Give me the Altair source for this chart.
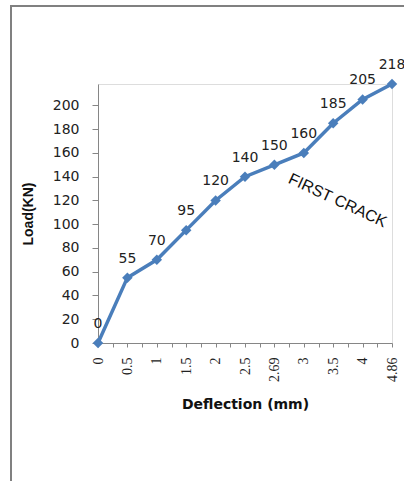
import altair as alt
import pandas as pd

# Data
deflection_labels = ["0", "0.5", "1", "1.5", "2", "2.5", "2.69", "3", "3.5", "4", "4.86"]
load_values = [0, 55, 70, 95, 120, 140, 150, 160, 185, 205, 218]
annotation_text = ["FIRST CRACK"]
annotation_pos = [8.15, 120]  # (category index, load) where the note sits

df = pd.DataFrame({
    "idx": list(range(len(deflection_labels))),
    "label": deflection_labels,
    "load": load_values,
})
ann = pd.DataFrame({"idx": [annotation_pos[0]], "load": [annotation_pos[1]], "t": annotation_text})

BLUE = "#4A7EBB"
AXIS = "#868686"

label_js = "[" + ",".join("'" + s + "'" for s in deflection_labels) + "]"
tick_vals = [i * 0.5 for i in range(2 * (len(deflection_labels) - 1) + 1)]

x_enc = alt.X(
    "idx:Q",
    scale=alt.Scale(domain=[0, len(deflection_labels) - 1], nice=False, zero=False),
    axis=alt.Axis(
        values=tick_vals,
        labelExpr=f"datum.value % 1 == 0 ? {label_js}[datum.value] : ''",
        labelAngle=270,
        labelAlign="right",
        labelBaseline="middle",
        labelFont="Liberation Serif",
        labelFontSize=14,
        labelColor="#222222",
        labelPadding=10,
        labelOverlap=False,
        labelFlush=False,
        labelBound=False,
        tickSize=4,
        tickColor=AXIS,
        domainColor=AXIS,
        grid=False,
        title="Deflection (mm)",
        titleFont="DejaVu Sans",
        titleFontWeight="bold",
        titleFontSize=14,
        titleColor="#111111",
        titleY=61,
        titleBaseline="middle",
    ),
)
y_enc = alt.Y(
    "load:Q",
    scale=alt.Scale(domain=[0, 218], nice=False),
    axis=alt.Axis(
        values=list(range(0, 201, 20)),
        labelFont="DejaVu Sans",
        labelFontSize=14,
        labelColor="#222222",
        labelPadding=13,
        labelOverlap=False,
        labelBound=False,
        labelFlush=False,
        tickSize=6,
        tickColor=AXIS,
        domainColor=AXIS,
        grid=False,
        title="Load(KN)",
        titleFont="Liberation Sans",
        titleFontWeight="bold",
        titleFontSize=14,
        titleColor="#111111",
        titleAngle=270,
        titleX=-70,
        titleY=129.5,
        titleAlign="center",
        titleBaseline="middle",
    ),
)

base = alt.Chart(df)
line = base.mark_line(color=BLUE, strokeWidth=3.5).encode(x=x_enc, y=y_enc)
pts = base.mark_point(shape="diamond", filled=True, size=110, color=BLUE, opacity=1).encode(x=x_enc, y=y_enc)
labels = base.mark_text(font="DejaVu Sans", fontSize=14, color="#222222", dy=-19, baseline="middle").encode(
    x=x_enc, y=y_enc, text="load:Q"
)
note = alt.Chart(ann).mark_text(font="Liberation Sans", fontSize=16, color="#111111", angle=25).encode(
    x=x_enc, y=y_enc, text="t:N"
)

frame_df = pd.DataFrame({"a": [0]})
frame_left = alt.Chart(frame_df).mark_rule(color="#808080", strokeWidth=2).encode(
    x=alt.value(-87), y=alt.value(-78), y2=alt.value(400)
)
frame_top = alt.Chart(frame_df).mark_rule(color="#808080", strokeWidth=2).encode(
    x=alt.value(-88), x2=alt.value(310), y=alt.value(-78)
)

chart = alt.layer(frame_left, frame_top, line, pts, labels, note).properties(
    width=294,
    height=259,
    autosize=alt.AutoSizeParams(type="none"),
    padding={"left": 98, "top": 84, "right": 12, "bottom": 138},
).configure_view(stroke=None).configure(background="white").configure_axis(labelOverlap=False)

chart.save("out.html", embed_options={"renderer": "svg", "actions": False})
